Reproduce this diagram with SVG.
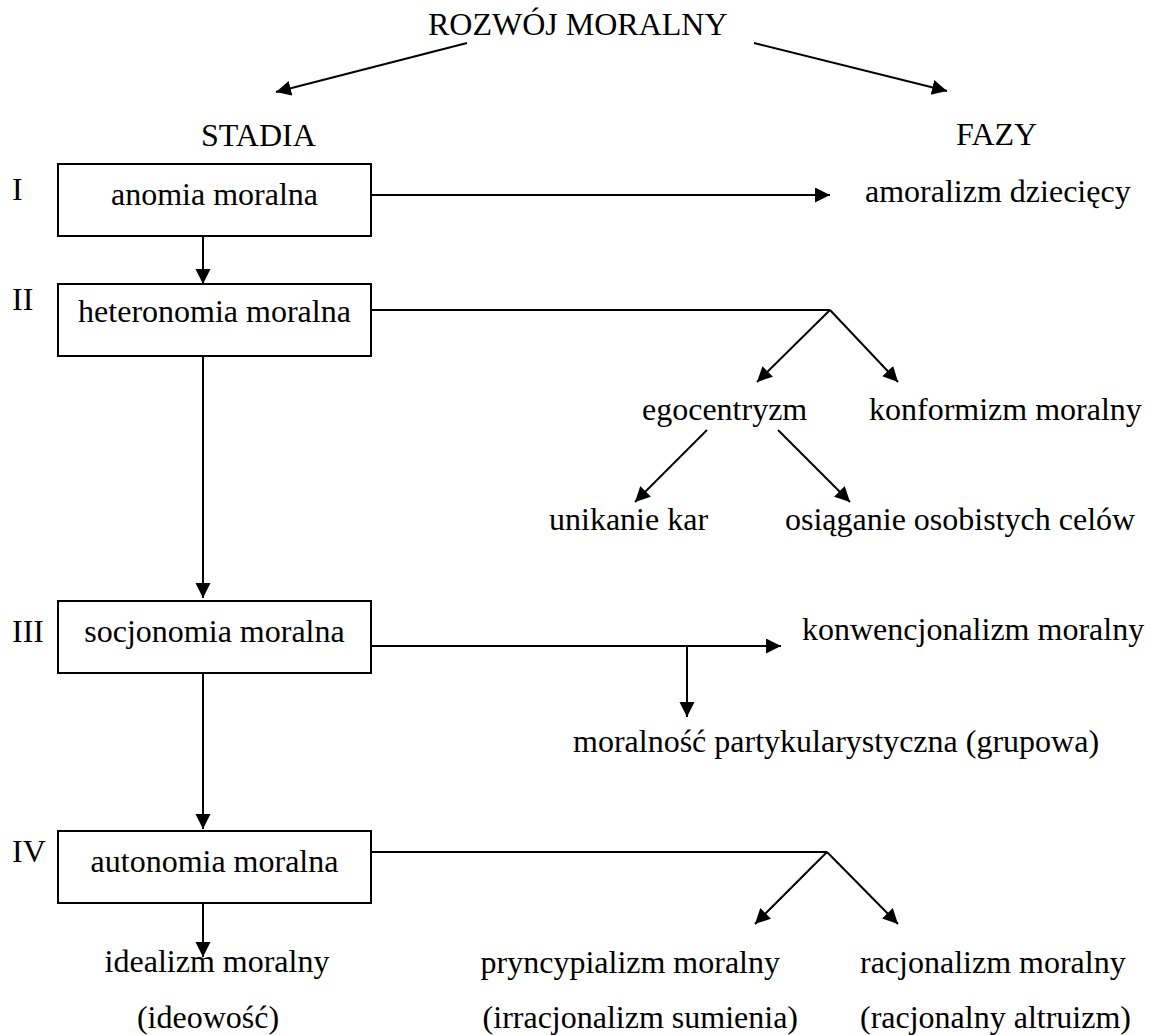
<svg xmlns="http://www.w3.org/2000/svg" width="1151" height="1035" viewBox="0 0 1151 1035">
<style>
text{font-family:"Liberation Serif","Times New Roman",serif;font-size:32px;fill:#000}
.c{text-anchor:middle}
.e{text-anchor:end}
.box{fill:#fff;stroke:#000;stroke-width:2}
.ln{fill:none;stroke:#000;stroke-width:2}
.ar{marker-end:url(#ah)}
</style>
<defs>
<marker id="ah" markerUnits="userSpaceOnUse" markerWidth="16" markerHeight="16" refX="15" refY="7.5" orient="auto">
<path d="M0,0 L15,7.5 L0,15 z" fill="#000"/>
</marker>
</defs>
<rect width="1151" height="1035" fill="#fff"/>
<g id="connectors">
<line class="ln ar" x1="467" y1="43" x2="276" y2="92"/>
<line class="ln ar" x1="754" y1="43" x2="947" y2="91"/>
<line class="ln ar" x1="203" y1="236" x2="203" y2="284"/>
<line class="ln ar" x1="203" y1="356" x2="203" y2="598"/>
<line class="ln ar" x1="203" y1="673" x2="203" y2="829"/>
<line class="ln ar" x1="203" y1="903" x2="203" y2="957"/>
<line class="ln ar" x1="371" y1="195" x2="830" y2="195"/>
<polyline class="ln" points="371,310 830,310"/>
<line class="ln ar" x1="830" y1="310" x2="757" y2="382"/>
<line class="ln ar" x1="830" y1="310" x2="898" y2="382"/>
<line class="ln ar" x1="707" y1="430" x2="635" y2="502"/>
<line class="ln ar" x1="778" y1="430" x2="850" y2="502"/>
<line class="ln ar" x1="371" y1="646" x2="781" y2="646"/>
<line class="ln ar" x1="687" y1="646" x2="687" y2="717"/>
<polyline class="ln" points="371,852 827,852"/>
<line class="ln ar" x1="827" y1="852" x2="755" y2="924"/>
<line class="ln ar" x1="827" y1="852" x2="898" y2="924"/>
</g>
<g id="title"><text x="428" y="35">ROZWÓJ MORALNY</text></g>
<g id="stadia"><text x="201" y="146">STADIA</text></g>
<g id="fazy"><text x="956" y="145">FAZY</text></g>
<g id="stage1">
<text x="12" y="200">I</text>
<rect class="box" x="58" y="164" width="313" height="72"/>
<text class="c" x="214.5" y="205">anomia moralna</text>
</g>
<g id="stage2">
<text x="12" y="310">II</text>
<rect class="box" x="58" y="284" width="313" height="72"/>
<text class="c" x="214.5" y="322">heteronomia moralna</text>
</g>
<g id="stage3">
<text x="12" y="642">III</text>
<rect class="box" x="58" y="601" width="313" height="72"/>
<text class="c" x="214.5" y="642">socjonomia moralna</text>
</g>
<g id="stage4">
<text x="12" y="862">IV</text>
<rect class="box" x="58" y="831" width="313" height="72"/>
<text class="c" x="214.5" y="872">autonomia moralna</text>
</g>
<g id="amoralizm"><text x="865" y="202">amoralizm dziecięcy</text></g>
<g id="egocentryzm"><text x="642" y="420">egocentryzm</text></g>
<g id="konformizm"><text x="869" y="420">konformizm moralny</text></g>
<g id="unikanie"><text x="549" y="530">unikanie kar</text></g>
<g id="osiaganie"><text x="785" y="530">osiąganie osobistych celów</text></g>
<g id="konwencjonalizm"><text x="802" y="640">konwencjonalizm moralny</text></g>
<g id="partykularystyczna"><text x="573" y="752">moralność partykularystyczna (grupowa)</text></g>
<g id="idealizm">
<text class="c" x="217" y="972">idealizm moralny</text>
<text class="c" x="208" y="1028">(ideowość)</text>
</g>
<g id="pryncypializm">
<text class="e" x="780" y="973">pryncypializm moralny</text>
<text class="e" x="798" y="1028">(irracjonalizm sumienia)</text>
</g>
<g id="racjonalizm">
<text x="860" y="973">racjonalizm moralny</text>
<text x="860" y="1028">(racjonalny altruizm)</text>
</g>
</svg>
